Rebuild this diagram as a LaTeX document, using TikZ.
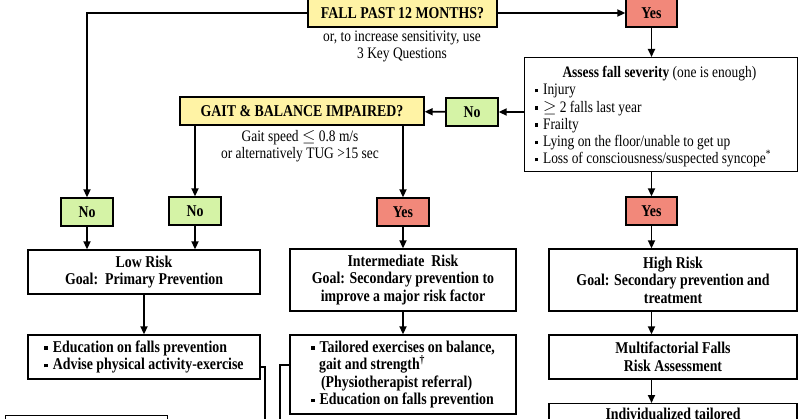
\documentclass[tikz,border=0pt]{standalone}
\usepackage{fontspec}
\setmainfont{Liberation Serif}[FakeStretch=0.84]
\usetikzlibrary{arrows.meta}
\newcommand\sqb{\rule[2.5pt]{3.5pt}{3.5pt}\hspace{5pt}}
\definecolor{yel}{HTML}{FFF3A5}
\definecolor{grn}{HTML}{D5F3A6}
\definecolor{rd}{HTML}{F2887A}
\begin{document}
\begin{tikzpicture}[x=1pt,y=-1pt,
  box/.style={draw,line width=1.3pt,inner sep=0pt,font=\fontsize{16.5}{17.5}\selectfont\bfseries,align=center},
  q/.style={box,fill=yel},
  g/.style={box,fill=grn,minimum width=52pt,minimum height=28pt},
  r/.style={box,fill=rd,minimum width=52pt,minimum height=28pt},
  ar/.style={line width=1.7pt,-{Triangle[length=8pt,width=7pt]}},
  ln/.style={line width=1.7pt},
  txt/.style={font=\fontsize{16}{17}\selectfont,align=center}]
\useasboundingbox (0,0) rectangle (800,419);
\fill[white] (0,0) rectangle (800,419);
% top row
\node[q,minimum width=189pt,minimum height=28pt] (fall) at (402.5,13) {FALL PAST 12 MONTHS?};
\node[r,minimum width=51pt] (yes1) at (651.5,13) {Yes};
\node[txt] (sub1) at (402,46) {or, to increase sensitivity, use\\3 Key Questions};
\node[box,minimum width=273pt,minimum height=114pt,anchor=north west] (assess) at (524,57) {};
\node[txt,anchor=north west,align=left,font=\fontsize{16}{17.2}\selectfont] (assesstxt) at (531,63)
 {\hspace*{28pt}\textbf{Assess fall severity} (one is enough)\\
  \sqb Injury\\ \sqb $\geq$ 2 falls last year\\ \sqb Frailty\\
  \sqb Lying on the floor/unable to get up\\
  \sqb Loss of consciousness/suspected syncope\textsuperscript{*}};
\node[g] (no0) at (472,112) {No};
\node[q,minimum width=244pt,minimum height=28pt] (gait) at (302,111) {GAIT \& BALANCE IMPAIRED?};
\node[txt] (sub2) at (300,146) {Gait speed $\leq$ 0.8 m/s\\or alternatively TUG >15 sec};
% second row
\node[g] (no1) at (87,212) {No};
\node[g] (no2) at (195,211) {No};
\node[r] (yes2) at (403,212) {Yes};
\node[r,minimum width=51pt] (yes3) at (651.5,211) {Yes};
% risk boxes
\node[box,minimum width=232pt,minimum height=44pt] (low) at (144,272) {Low Risk\\Goal:\ \ Primary Prevention};
\node[box,minimum width=226pt,minimum height=62pt] (mid) at (403,280) {Intermediate\ \ Risk\\Goal: Secondary prevention to\\improve a major risk factor};
\node[box,minimum width=248pt,minimum height=62pt] (high) at (673,280) {High Risk\\Goal: Secondary prevention and\\treatment};
% action boxes
\node[box,minimum width=232pt,minimum height=44pt,align=left] (edu) at (144,357) {\sqb Education on falls prevention\\\sqb Advise physical activity-exercise};
\node[box,minimum width=226pt,minimum height=79pt,align=left] (tail) at (403,374.5) {\sqb Tailored exercises on balance,\\\hspace*{8pt}gait and strength\textsuperscript{\dag}\\\hspace*{10pt}(Physiotherapist referral)\\\sqb Education on falls prevention};
\node[box,minimum width=248pt,minimum height=44pt] (multi) at (673,357) {Multifactorial Falls\\Risk Assessment};
\node[box,minimum width=248pt,minimum height=50pt,anchor=north,text depth=30pt] (indiv) at (673,403) {Individualized tailored};
\node[box,minimum width=162pt,minimum height=40pt,anchor=north west] (bl) at (5,415) {};
\coordinate (c1) at (265,430);
\coordinate (c2) at (280,430);
% connectors
\draw[ar] (fall) -- (yes1);
\draw[ar] (fall.west) -| (no1.north);
\draw[ar] (yes1) -- (assess.north -| yes1);
\draw[ar] (assess.west |- no0) -- (no0);
\draw[ar] (no0) -- (gait);
\draw[ar] (gait.south -| no2) -- (no2);
\draw[ar] (gait.south -| yes2) -- (yes2);
\draw[ar] (assess.south -| yes3) -- (yes3);
\draw[ar] (no1) -- (low.north -| no1);
\draw[ar] (no2) -- (low.north -| no2);
\draw[ar] (yes2) -- (mid);
\draw[ar] (yes3) -- (high.north -| yes3);
\draw[ar] (low) -- (edu);
\draw[ar] (mid) -- (tail);
\draw[ar] (high.south -| yes3) -- (multi.north -| yes3);
\draw[ar] (multi.south -| yes3) -- (indiv.north -| yes3);
\draw[ln] (edu.east |- 0,367) -| (c1);
\draw[ln] (tail.west |- 0,365) -| (c2);
\end{tikzpicture}
\end{document}
